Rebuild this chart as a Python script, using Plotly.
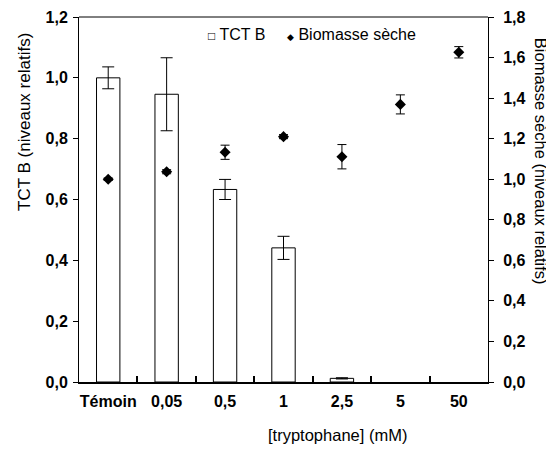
import plotly.graph_objects as go

categories = ["Témoin", "0,05", "0,5", "1", "2,5", "5", "50"]
# no TCT B bar is visible for 5 and 50 mM
tct_b = [1.0, 0.946, 0.633, 0.441, 0.012, None, None]
tct_b_err = [0.036, 0.12, 0.033, 0.038, 0.002, 0.0, 0.0]
biomasse = [1.0, 1.037, 1.133, 1.21, 1.111, 1.369, 1.626]
biomasse_err = [0.006, 0.01, 0.035, 0.01, 0.06, 0.047, 0.028]

legend_labels = ["TCT B", "Biomasse sèche"]
left_title = "TCT B (niveaux relatifs)"
right_title = "Biomasse sèche (niveaux relatifs)"
x_title = "[tryptophane] (mM)"

FONT = "Liberation Sans, Arial, sans-serif"

fig = go.Figure()
fig.add_trace(go.Bar(
    x=categories, y=tct_b, name=legend_labels[0],
    marker=dict(color="white", line=dict(color="black", width=1)),
    width=0.4,
    error_y=dict(type="data", array=tct_b_err, visible=True, color="black", thickness=1, width=6),
    yaxis="y", showlegend=False,
))
fig.add_trace(go.Scatter(
    x=categories, y=biomasse, name=legend_labels[1], mode="markers",
    marker=dict(symbol="diamond", color="black", size=8.5),
    error_y=dict(type="data", array=biomasse_err, visible=True, color="black", thickness=1, width=4.5),
    yaxis="y2", showlegend=False,
))

tickfont = dict(family=FONT, size=16, weight="bold", color="black")
titlefont = dict(family=FONT, size=16.5, color="black")

fig.update_layout(
    width=546, height=442,
    margin=dict(l=71, r=66, t=9, b=68, autoexpand=False),
    paper_bgcolor="white", plot_bgcolor="white",
    separators=", ",
    font=dict(family=FONT, size=16, color="black"),
    showlegend=False,
    xaxis=dict(
        type="category", categoryorder="array", categoryarray=categories,
        range=[-0.5, len(categories) - 0.5],
        tickson="boundaries", ticks="inside", ticklen=6, tickwidth=1.5,
        tickcolor="black", showline=True, linecolor="black", linewidth=2,
        tickfont=tickfont, ticklabelstandoff=4, tickangle=0,
        showgrid=False, zeroline=False,
    ),
    yaxis=dict(
        range=[0, 1.2], dtick=0.2, tickformat=".1f", ticks="outside", ticklen=5,
        tickcolor="black", showline=True, linecolor="black", linewidth=1,
        tickfont=tickfont, ticklabelstandoff=2,
        showgrid=False, zeroline=False,
    ),
    yaxis2=dict(
        range=[0, 1.8], dtick=0.2, tickformat=".1f", ticks="outside", ticklen=5,
        tickcolor="black", showline=True, linecolor="black", linewidth=1,
        tickfont=tickfont, ticklabelstandoff=6,
        overlaying="y", side="right", showgrid=False, zeroline=False,
    ),
    shapes=[dict(type="line", xref="paper", yref="paper", x0=0, x1=1, y0=1, y1=1,
                 line=dict(color="black", width=1))],
    annotations=[
        dict(text=left_title, xref="paper", yref="paper",
             x=-0.135, y=0.712, textangle=-90, showarrow=False,
             font=dict(family=FONT, size=17, color="black"), xanchor="center", yanchor="middle"),
        dict(text=right_title, xref="paper", yref="paper",
             x=1.128, y=0.605, textangle=90, showarrow=False,
             font=titlefont, xanchor="center", yanchor="middle"),
        dict(text=x_title, xref="paper", yref="paper",
             x=0.631, y=-0.145, showarrow=False,
             font=titlefont, xanchor="center", yanchor="middle"),
        dict(text="<span style='font-size:12px'>□</span> " + legend_labels[0],
             xref="paper", yref="paper", x=0.3105, y=0.951, showarrow=False,
             font=dict(family=FONT, size=16, color="black"), xanchor="left", yanchor="middle"),
        dict(text="<span style='font-size:9px'>◆</span> " + legend_labels[1],
             xref="paper", yref="paper", x=0.504, y=0.951, showarrow=False,
             font=dict(family=FONT, size=16, color="black"), xanchor="left", yanchor="middle"),
    ],
)

fig.write_html("out.html")
